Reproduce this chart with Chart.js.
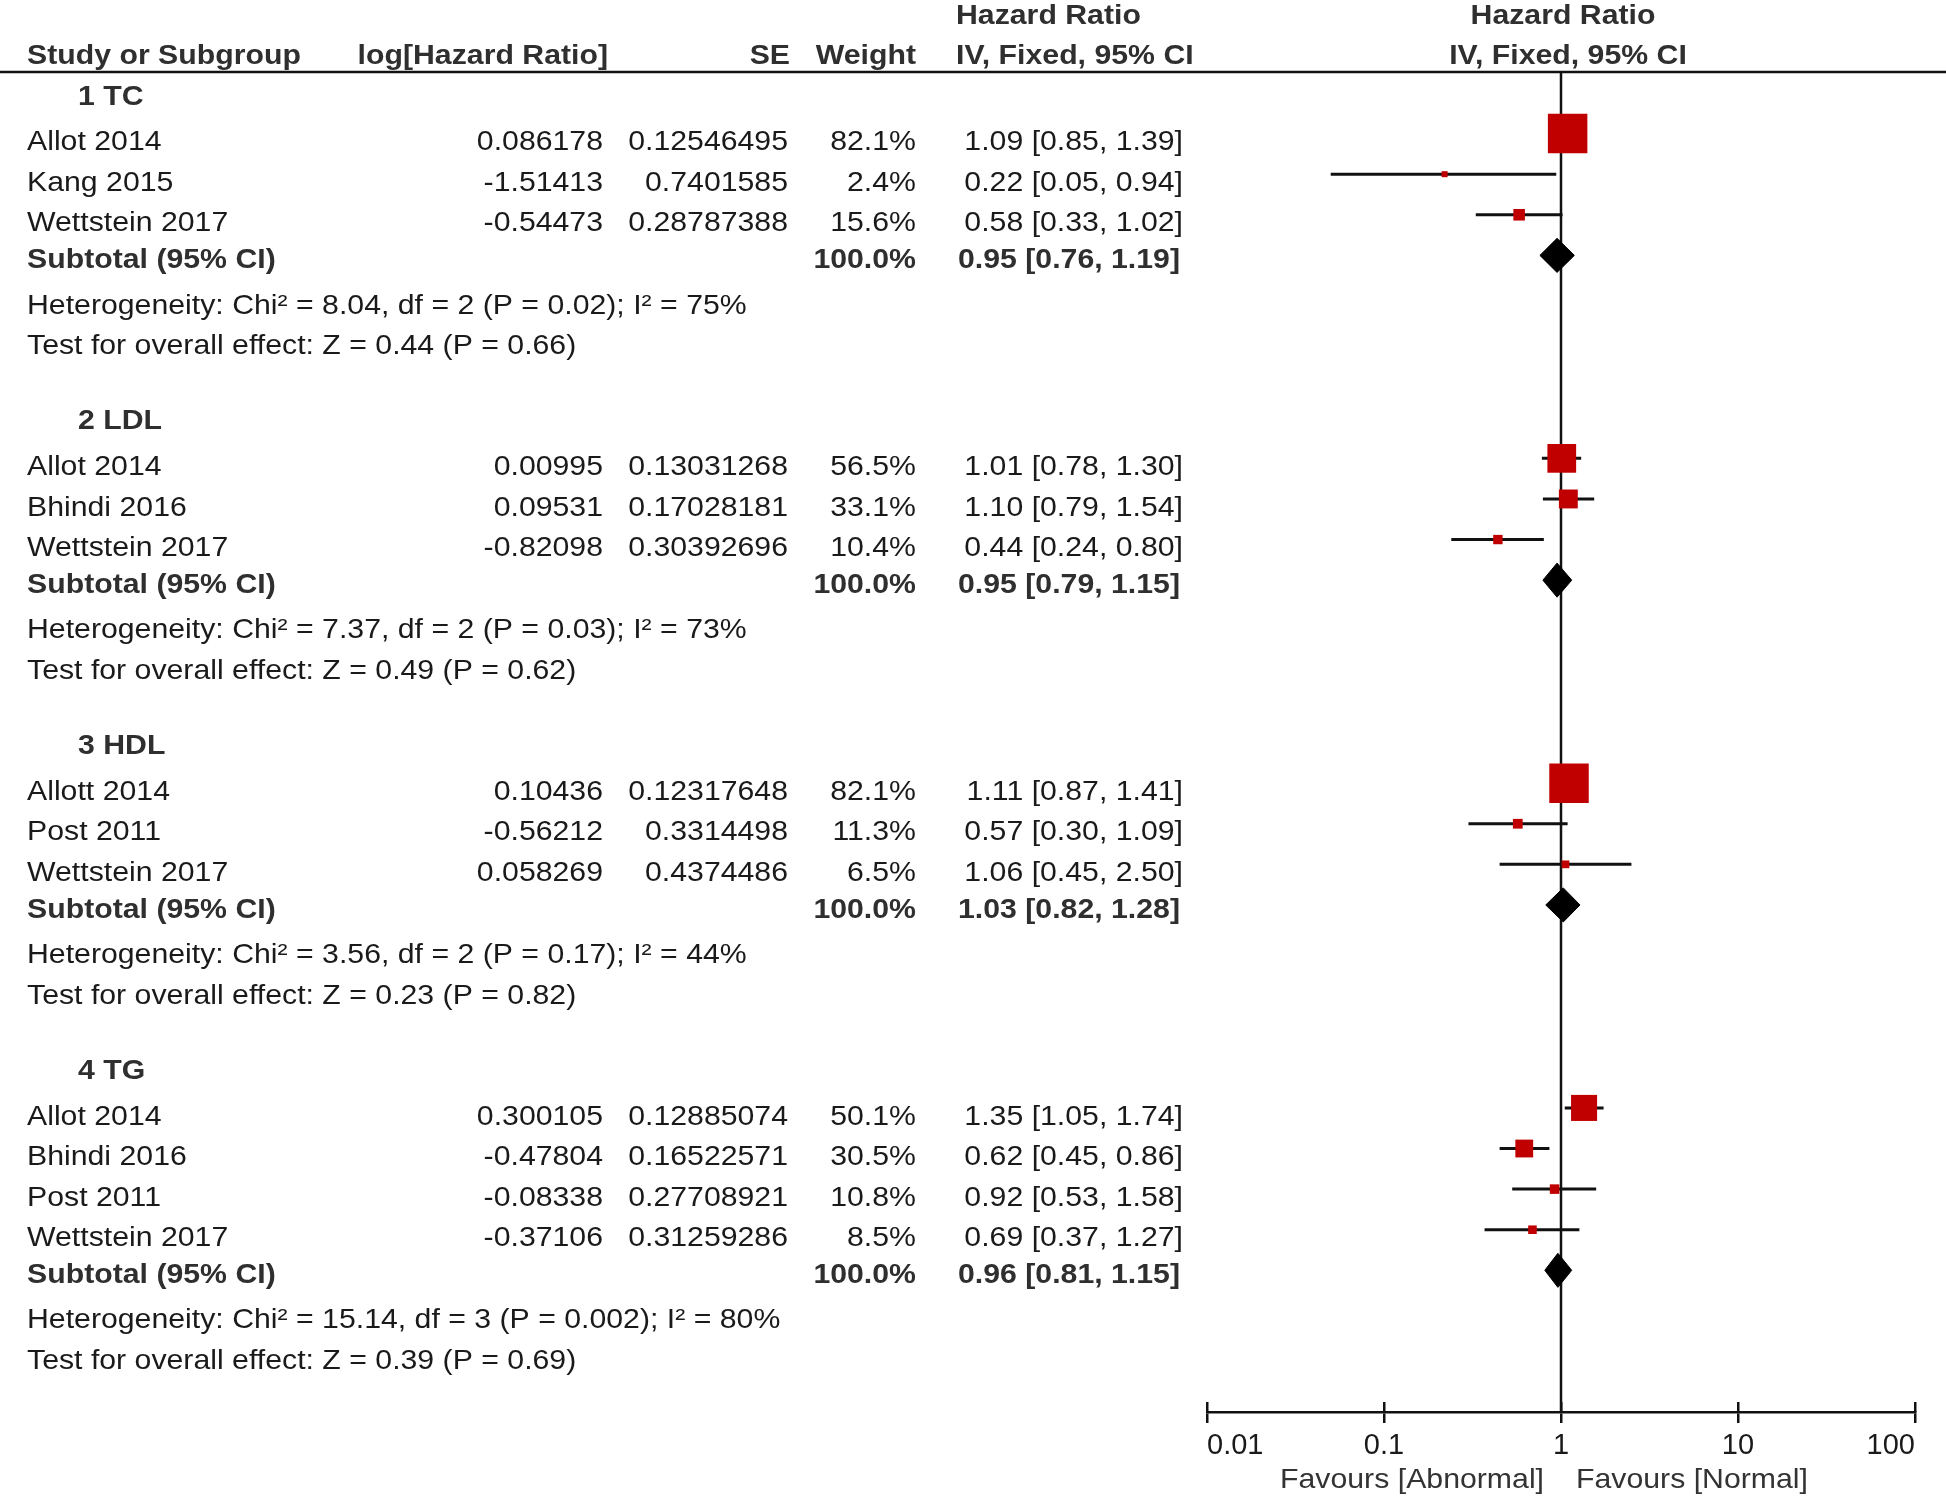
<!DOCTYPE html>
<html>
<head>
<meta charset="utf-8">
<script src="https://cdn.jsdelivr.net/npm/chart.js@4.4.1/dist/chart.umd.min.js"></script>
<style>
  html, body { margin: 0; padding: 0; background: #fff; }
  canvas { display: block; }
</style>
</head>
<body>
<canvas id="forest" width="1946" height="1496"></canvas>
<script>
// subgroups
const groupNames = ['1 TC', '2 LDL', '3 HDL', '4 TG'];
const groupSizes = [3, 3, 3, 4];

// studies, in order of appearance
const studyNames = ['Allot 2014', 'Kang 2015', 'Wettstein 2017',
  'Allot 2014', 'Bhindi 2016', 'Wettstein 2017',
  'Allott 2014', 'Post 2011', 'Wettstein 2017',
  'Allot 2014', 'Bhindi 2016', 'Post 2011', 'Wettstein 2017'];
const logHR = [0.086178, -1.51413, -0.54473, 0.00995, 0.09531, -0.82098,
  0.10436, -0.56212, 0.058269, 0.300105, -0.47804, -0.08338, -0.37106];
const stdErr = [0.12546495, 0.7401585, 0.28787388, 0.13031268, 0.17028181, 0.30392696,
  0.12317648, 0.3314498, 0.4374486, 0.12885074, 0.16522571, 0.27708921, 0.31259286];
const weight = [82.1, 2.4, 15.6, 56.5, 33.1, 10.4, 82.1, 11.3, 6.5, 50.1, 30.5, 10.8, 8.5];
const hr = [1.09, 0.22, 0.58, 1.01, 1.10, 0.44, 1.11, 0.57, 1.06, 1.35, 0.62, 0.92, 0.69];
const ciLow = [0.85, 0.05, 0.33, 0.78, 0.79, 0.24, 0.87, 0.30, 0.45, 1.05, 0.45, 0.53, 0.37];
const ciHigh = [1.39, 0.94, 1.02, 1.30, 1.54, 0.80, 1.41, 1.09, 2.50, 1.74, 0.86, 1.58, 1.27];

// subtotals
const subHR = [0.95, 0.95, 1.03, 0.96];
const subLow = [0.76, 0.79, 0.82, 0.81];
const subHigh = [1.19, 1.15, 1.28, 1.15];
const chi2 = ['8.04', '7.37', '3.56', '15.14'];
const df = [2, 2, 2, 3];
const hetP = ['0.02', '0.03', '0.17', '0.002'];
const iSq = [75, 73, 44, 80];
const zVal = ['0.44', '0.49', '0.23', '0.39'];
const zP = ['0.66', '0.62', '0.82', '0.69'];

// axis
const axisTicks = [0.01, 0.1, 1, 10, 100];
const axisLabels = ['0.01', '0.1', '1', '10', '100'];

const FONT = "'Liberation Sans', Arial, Helvetica, sans-serif";
const Y_MIN = -0.517, Y_MAX = 32.49;

// row layout: header, studies, subtotal, heterogeneity, overall, blank
const groupRow = [];
const studyRow = [];
let r = 0, k = 0;
groupSizes.forEach((n) => {
  groupRow.push(r);
  for (let j = 0; j < n; j++) studyRow[k++] = r + 1 + j;
  r += n + 5;
});
const subRow = groupRow.map((g, i) => g + groupSizes[i] + 1);

const datasets = [];
datasets.push({
  data: [{ x: 1, y: Y_MIN }, { x: 1, y: Y_MAX }],
  showLine: true, borderColor: '#111', borderWidth: 2.5, pointRadius: 0, order: 3
});
studyNames.forEach((s, i) => {
  datasets.push({
    data: [{ x: ciLow[i], y: studyRow[i] }, { x: ciHigh[i], y: studyRow[i] }],
    showLine: true, borderColor: '#111', borderWidth: 3, pointRadius: 0, order: 2
  });
});
datasets.push({
  data: hr.map((v, i) => ({ x: v, y: studyRow[i] })),
  pointStyle: 'rect',
  pointRadius: weight.map(w => (0.42 * w + 5) / Math.SQRT2),
  backgroundColor: '#c00000', borderColor: '#c00000', borderWidth: 0, order: 0
});
const halfH = 0.42;
subHR.forEach((v, i) => {
  const y = subRow[i];
  datasets.push({
    data: [{ x: subLow[i], y }, { x: v, y: y - halfH }, { x: subHigh[i], y }],
    showLine: true, fill: '+1', backgroundColor: '#000', borderColor: '#000',
    borderWidth: 1, pointRadius: 0, order: 0
  });
  datasets.push({
    data: [{ x: subLow[i], y }, { x: v, y: y + halfH }, { x: subHigh[i], y }],
    showLine: true, fill: false, borderColor: '#000', borderWidth: 1, pointRadius: 0, order: 0
  });
});

function label(ctx, s, x, y, align, bold, color) {
  ctx.save();
  ctx.font = (bold ? 'bold ' : '') + '27.5px ' + FONT;
  ctx.fillStyle = color || (bold ? '#2f2f2f' : '#1a1a1a');
  ctx.textAlign = align || 'left';
  ctx.textBaseline = 'middle';
  ctx.translate(x, y);
  ctx.scale(1.1, 1);
  ctx.fillText(s, 0, 0);
  ctx.restore();
}

const tablePlugin = {
  id: 'table',
  afterDraw(chart) {
    const ctx = chart.ctx;
    const area = chart.chartArea;
    const xs = chart.scales.x, ys = chart.scales.y;
    const x1 = xs.getPixelForValue(1);

    // header rule
    ctx.save();
    ctx.strokeStyle = '#111';
    ctx.lineWidth = 2.5;
    ctx.beginPath();
    ctx.moveTo(0, area.top);
    ctx.lineTo(chart.width, area.top);
    ctx.stroke();
    // upper halves of the axis ticks
    axisTicks.forEach(v => {
      const px = Math.round(xs.getPixelForValue(v)) + 0.25;
      ctx.beginPath();
      ctx.moveTo(px, area.bottom);
      ctx.lineTo(px, area.bottom - 10);
      ctx.stroke();
    });
    ctx.restore();

    // column headers
    const h1 = area.top - 56, h2 = area.top - 16;
    label(ctx, 'Hazard Ratio', 956, h1, 'left', true);
    label(ctx, 'Hazard Ratio', x1 + 2, h1, 'center', true);
    label(ctx, 'Study or Subgroup', 27, h2, 'left', true);
    label(ctx, 'log[Hazard Ratio]', 608, h2, 'right', true);
    label(ctx, 'SE', 790, h2, 'right', true);
    label(ctx, 'Weight', 916, h2, 'right', true);
    label(ctx, 'IV, Fixed, 95% CI', 956, h2, 'left', true);
    label(ctx, 'IV, Fixed, 95% CI', x1 + 7, h2, 'center', true);

    const py = v => ys.getPixelForValue(v);
    groupNames.forEach((g, i) => {
      label(ctx, g, 78, py(groupRow[i]) + 4, 'left', true);
      const sy = py(subRow[i]) + 5;
      label(ctx, 'Subtotal (95% CI)', 27, sy, 'left', true);
      label(ctx, '100.0%', 916, sy, 'right', true);
      label(ctx, subHR[i].toFixed(2) + ' [' + subLow[i].toFixed(2) + ', ' + subHigh[i].toFixed(2) + ']', 1180, sy, 'right', true);
      label(ctx, 'Heterogeneity: Chi² = ' + chi2[i] + ', df = ' + df[i] + ' (P = ' + hetP[i] + '); I² = ' + iSq[i] + '%',
        27, py(subRow[i] + 1) + 10, 'left');
      label(ctx, 'Test for overall effect: Z = ' + zVal[i] + ' (P = ' + zP[i] + ')',
        27, py(subRow[i] + 2) + 10, 'left');
    });
    studyNames.forEach((s, i) => {
      const y = py(studyRow[i]) + 9;
      label(ctx, s, 27, y, 'left');
      label(ctx, String(logHR[i]), 603, y, 'right');
      label(ctx, String(stdErr[i]), 788, y, 'right');
      label(ctx, weight[i].toFixed(1) + '%', 916, y, 'right');
      label(ctx, hr[i].toFixed(2) + ' [' + ciLow[i].toFixed(2) + ', ' + ciHigh[i].toFixed(2) + ']', 1183, y, 'right');
    });

    // favours labels
    const fy = area.bottom + 68;
    label(ctx, 'Favours [Abnormal]', x1 - 17, fy, 'right', false, '#333');
    label(ctx, 'Favours [Normal]', x1 + 15, fy, 'left', false, '#333');
  }
};

new Chart(document.getElementById('forest').getContext('2d'), {
  type: 'scatter',
  data: { datasets },
  options: {
    responsive: false,
    animation: false,
    devicePixelRatio: 1,
    events: [],
    layout: { padding: { left: 1207, right: 31, top: 72, bottom: 0 } },
    plugins: { legend: { display: false }, tooltip: { enabled: false } },
    elements: { line: { tension: 0 } },
    scales: {
      x: {
        type: 'logarithmic',
        position: 'bottom',
        min: 0.01,
        max: 100,
        afterBuildTicks: s => { s.ticks = axisTicks.map(v => ({ value: v })); },
        afterFit: s => { s.height = 84; },
        ticks: {
          callback: (v, i) => axisLabels[i],
          align: 'inner',
          autoSkip: false,
          maxRotation: 0,
          padding: 6,
          color: '#1a1a1a',
          font: { family: FONT, size: 29 }
        },
        grid: { drawOnChartArea: false, drawTicks: true, tickLength: 11, color: '#111', lineWidth: 2.5 },
        border: { display: true, color: '#111', width: 2.5 }
      },
      y: {
        type: 'linear',
        reverse: true,
        min: Y_MIN,
        max: Y_MAX,
        display: false
      }
    }
  },
  plugins: [tablePlugin]
});
</script>
</body>
</html>
